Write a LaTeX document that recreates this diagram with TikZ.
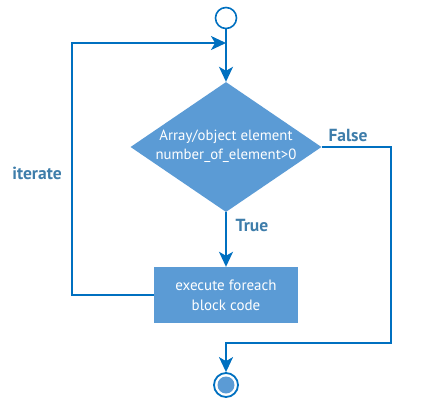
\documentclass[tikz,border=0pt]{standalone}
\usepackage{fontspec}
\setmainfont{PT Sans}
\usepackage{xcolor}
\usetikzlibrary{arrows.meta}
\usetikzlibrary{shapes.geometric}
\definecolor{flowline}{RGB}{0,112,192}
\definecolor{flowfill}{RGB}{91,155,213}
\definecolor{flowlabel}{RGB}{62,125,170}
\tikzset{
    flownode/.style = {align=center, inner sep=0pt, text centered},
    start_node/.style = {flownode, circle, draw=flowline, fill=white, line width=1.6pt, minimum size=21pt},
    end_node/.style = {flownode, circle, draw=flowline, fill=white, line width=1.8pt, minimum size=24pt},
    end_dot/.style = {flownode, circle, fill=flowfill, minimum size=17pt},
    cond_node/.style = {flownode, diamond, fill=flowfill, minimum width=191pt, minimum height=130pt},
    cond_text/.style = {flownode, text=white, font=\fontsize{14.8}{19}\selectfont},
    block_node/.style = {flownode, rectangle, fill=flowfill, text=white, minimum width=144pt, minimum height=56pt, font=\fontsize{15}{20}\selectfont},
    branch_label/.style = {flownode, text=flowlabel, font=\bfseries\fontsize{17.5}{18}\selectfont},
    flow/.style = {draw=flowline, line width=1.8pt}
}

\begin{document}
\begin{tikzpicture}[x=1pt, y=-1pt, >={Stealth[length=15pt, width=14pt, inset=4pt]}]
    \useasboundingbox (0,0) rectangle (432,400);
    % nodes
    \node [start_node] (start) at (226,18) {};
    \node [cond_node] (cond) at (226,147) {};
    \node [cond_text] (condtxt) at (226,146) {Array/object element\\number\_of\_element>0};
    \node [block_node] (block) at (226,295) {execute foreach\\block code};
    \node [end_node] (stop) at (226,385) {};
    \node [end_dot] (stopdot) at (226,385) {};
    % bends
    \coordinate (merge) at (226,43);
    \coordinate (loop_top) at (72,43);
    \coordinate (false_turn) at (391,343);
    % labels
    \node [branch_label] (false_lbl) at (348,135) {False};
    \node [branch_label] (true_lbl) at (252,225) {True};
    \node [branch_label] (iter_lbl) at (37,173) {iterate};
    % connectors
    \draw [flow, ->] (start) -- (cond.north);
    \draw [flow, ->] (cond.south) -- (block.north);
    \draw [flow, ->] (block.west) -| (loop_top) -- (merge);
    \draw [flow, ->] (cond.east) -| (false_turn) -| (stop.north);
\end{tikzpicture}
\end{document}
